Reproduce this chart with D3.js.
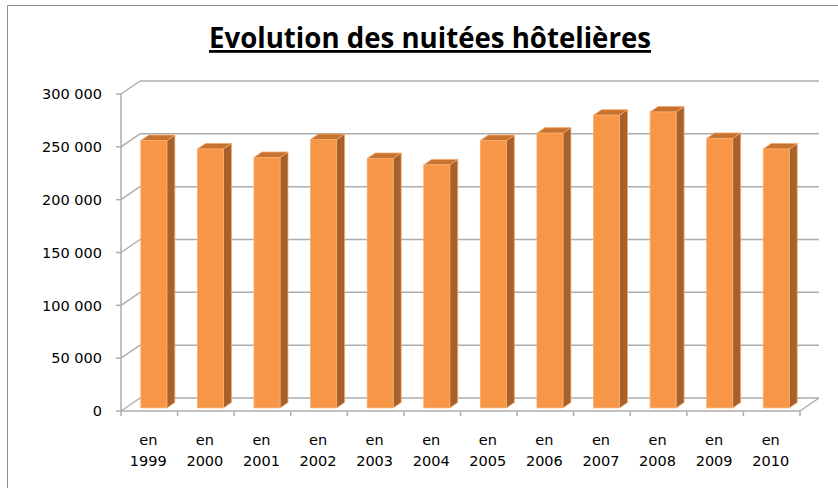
<!DOCTYPE html>
<html>
<head>
<meta charset="utf-8">
<script src="https://cdn.jsdelivr.net/npm/d3@7"></script>
<style>
  html, body { margin: 0; padding: 0; background: #fff; }
  svg { display: block; }
</style>
</head>
<body>
<script>
// ---- data ----
const title = "Evolution des nuitées hôtelières";
const prefix = "en";
const years = ["1999","2000","2001","2002","2003","2004","2005","2006","2007","2008","2009","2010"];
const values = [253000, 245000, 237000, 254000, 236000, 230000, 253000, 260000, 277000, 280000, 255000, 245000];
const yTicks = [0, 50000, 100000, 150000, 200000, 250000, 300000];

// ---- layout ----
const W = 838, H = 488;
const svg = d3.select("body").append("svg").attr("width", W).attr("height", H);

// chart frame
svg.append("path").attr("d", `M7.5,${H} L7.5,5.5 L${W},5.5`)
  .attr("fill", "none").attr("stroke", "#8c8c8c").attr("stroke-width", 1);

const depth = { dx: 19, dy: -13 };
const x = d3.scaleBand().domain(years).range([121, 800]).padding(0);
const y = d3.scaleLinear().domain([0, 300000]).range([411, 94]);

const grid = svg.append("g").attr("stroke", "#adadad").attr("stroke-width", 1.5).attr("fill", "none");
// back wall gridlines + side wall diagonals
yTicks.forEach(t => {
  const yy = y(t);
  grid.append("line").attr("x1", 121 + depth.dx).attr("x2", 800 + depth.dx)
    .attr("y1", yy + depth.dy).attr("y2", yy + depth.dy);
  grid.append("line").attr("x1", 121).attr("y1", yy)
    .attr("x2", 121 + depth.dx).attr("y2", yy + depth.dy);
});
// floor front edge & right diagonal
grid.append("line").attr("x1", 121).attr("x2", 800).attr("y1", y(0)).attr("y2", y(0));
grid.append("line").attr("x1", 800).attr("y1", y(0)).attr("x2", 800 + depth.dx).attr("y2", y(0) + depth.dy);
// vertical axis line
grid.append("line").attr("x1", 121).attr("x2", 121).attr("y1", y(0)).attr("y2", y(300000));
// y ticks
yTicks.forEach(t => {
  grid.append("line").attr("x1", 116).attr("x2", 121).attr("y1", y(t)).attr("y2", y(t));
});
// x ticks
const bounds = years.map(d => x(d)).concat([x(years[years.length - 1]) + x.bandwidth()]);
bounds.forEach(b => {
  grid.append("line").attr("x1", b).attr("x2", b).attr("y1", y(0)).attr("y2", y(0) + 5);
});

// y labels
const fr = d3.formatLocale({ decimal: ",", thousands: "\u00a0", grouping: [3], currency: ["", " €"] });
const fmt = fr.format(",d");
svg.append("g").selectAll("text").data(yTicks).join("text")
  .attr("x", 102).attr("y", d => y(d)).attr("dy", "0.36em")
  .attr("text-anchor", "end")
  .attr("font-family", "DejaVu Sans, Verdana, sans-serif").attr("font-size", 14.5)
  .attr("fill", "#000")
  .text(d => fmt(d));

// x labels
const xl = svg.append("g").selectAll("text").data(years).join("text")
  .attr("text-anchor", "middle")
  .attr("font-family", "DejaVu Sans, Verdana, sans-serif").attr("font-size", 14.5)
  .attr("fill", "#000");
xl.append("tspan").attr("x", d => x(d) + x.bandwidth() / 2 - 1).attr("y", 445).text(prefix);
xl.append("tspan").attr("x", d => x(d) + x.bandwidth() / 2 - 1).attr("y", 466).text(d => d);

// bars (3D)
const bw = 26;
const f0 = 0.24, f1 = 0.42; // bar plane offset and bar depth as fractions of full depth
const ox = depth.dx * f0, oy = depth.dy * f0;
const bx = depth.dx * f1, by = depth.dy * f1;
const bars = svg.append("g");
years.forEach((yr, i) => {
  const xl0 = x(yr) + (x.bandwidth() - bw) / 2 + ox;
  const xr0 = xl0 + bw;
  const yt = y(values[i]) + oy;
  const yb = y(0) + oy;
  const g = bars.append("g");
  // side
  g.append("path")
    .attr("d", `M${xr0},${yt} L${xr0 + bx},${yt + by} L${xr0 + bx},${yb + by} L${xr0},${yb} Z`)
    .attr("fill", "#a6612c").attr("stroke", "#f5a868").attr("stroke-width", 0.8).attr("stroke-linejoin", "round");
  // top
  g.append("path")
    .attr("d", `M${xl0},${yt} L${xl0 + bx},${yt + by} L${xr0 + bx},${yt + by} L${xr0},${yt} Z`)
    .attr("fill", "#c8722f").attr("stroke", "#f7a563").attr("stroke-width", 0.8).attr("stroke-linejoin", "round");
  // front
  g.append("rect")
    .attr("x", xl0).attr("y", yt).attr("width", bw).attr("height", yb - yt)
    .attr("fill", "#f79646").attr("stroke", "#f9ad6e").attr("stroke-width", 0.8);
});

// title
svg.append("text")
  .attr("x", 430).attr("y", 48)
  .attr("text-anchor", "middle")
  .attr("font-family", "Open Sans, Liberation Sans, sans-serif")
  .attr("font-weight", "bold").attr("font-size", 28)
  .attr("text-decoration", "underline")
  .attr("textLength", 442).attr("lengthAdjust", "spacingAndGlyphs")
  .attr("fill", "#000")
  .text(title);
</script>
</body>
</html>
